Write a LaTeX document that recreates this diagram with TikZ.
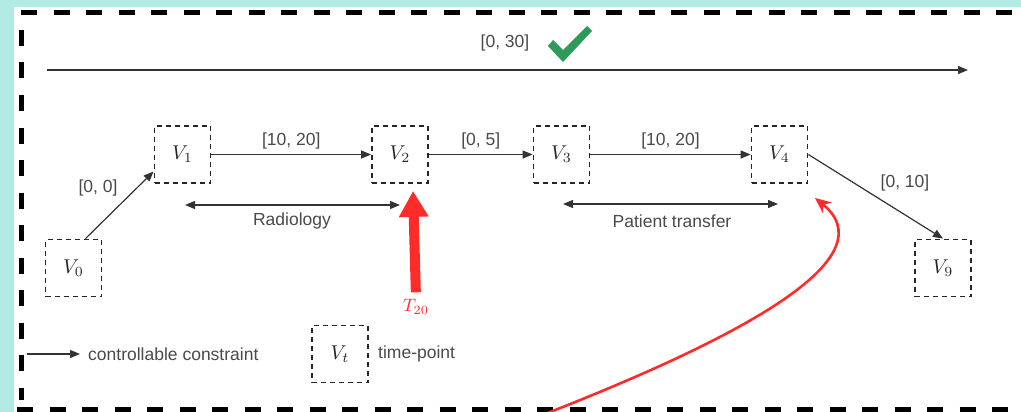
\documentclass[tikz,border=0pt]{standalone}
\usepackage{graphicx}
\usepackage{fontspec}
\setmainfont{Liberation Sans}
\usetikzlibrary{arrows.meta,calc}
\definecolor{teal0}{HTML}{B3EBE4}
\definecolor{txt}{HTML}{4A4A4A}
\definecolor{edge}{HTML}{333333}
\definecolor{okgreen}{HTML}{2E9A5A}
\definecolor{alarm}{HTML}{FF2A2A}
\newcommand{\vlab}[1]{\scalebox{2}{$#1$}}
\begin{document}
\begin{tikzpicture}[x=1pt,y=-1pt,
  tp/.style={draw=black!85, dash pattern=on 5pt off 4pt, line width=1.8pt,
    minimum width=56pt, minimum height=57pt, inner sep=0pt, text=black!85},
  lbl/.style={font=\fontsize{17.5}{20}\selectfont, text=txt, inner sep=1pt},
  ctrl/.style={draw=edge, line width=1.2pt, -{Triangle[length=10pt,width=8pt]}},
  span/.style={draw=edge, line width=1.2pt, {Triangle[length=10pt,width=8pt]}-{Triangle[length=10pt,width=8pt]}},
  frame/.style={draw=black, line width=5pt, dash pattern=on 16pt off 16.5pt}]
\useasboundingbox (0,0) rectangle (1021,412);
\fill[teal0] (0,0) rectangle (1021,412);
\fill[white] (14,7) rectangle (1021,412);
% frame
\draw[frame] (21,13) -- (1030,13);
\draw[frame] (21,30) -- (21,400);
\draw[frame] (17,409) -- (1030,409);
% overall constraint
\coordinate (g0) at (47,70);
\coordinate (g1) at (968,70);
\draw[ctrl] (g0) -- (g1);
\node[lbl] (g30) at (505,43) {[0, 30]};
\fill[okgreen] (548,46) -- (553,40) -- (563,50) -- (587,26) -- (592,31) -- (563,62) -- cycle;
% time-points
\node[tp] (V0) at (73.5,268) {\vlab{V_0}};
\node[tp] (V1) at (182.5,154.5) {\vlab{V_1}};
\node[tp] (V2) at (400,154.5) {\vlab{V_2}};
\node[tp] (V3) at (561.5,154.5) {\vlab{V_3}};
\node[tp] (V4) at (779.5,154.5) {\vlab{V_4}};
\node[tp] (V9) at (943,268) {\vlab{V_9}};
% constraints
\draw[ctrl] ($(V0.north)+(12,0)$) -- ($(V1.west)+(0,17)$);
\node[lbl] (l00) at (98,188) {[0, 0]};
\draw[ctrl] (V1) -- node[lbl, above=4pt] (l12) {[10, 20]} (V2);
\draw[ctrl] (V2) -- node[lbl, above=4pt] (l23) {[0, 5]} (V3);
\draw[ctrl] (V3) -- node[lbl, above=4pt] (l34) {[10, 20]} (V4);
\draw[ctrl] (V4.east) -- (V9.north);
\node[lbl] (l49) at (905,183) {[0, 10]};
% spans
\coordinate (r0) at (185,205);
\coordinate (r1) at (400,205);
\draw[span] (r0) -- (r1);
\node[lbl] (rad) at (292,221) {Radiology};
\coordinate (p0) at (563,204);
\coordinate (p1) at (778,204);
\draw[span] (p0) -- (p1);
\node[lbl] (pt) at (672,221) {Patient transfer};
% red event
\node[text=alarm, inner sep=1pt] (T20) at (416,307) {\scalebox{1.8}{$T_{20}$}};
\coordinate (redtip) at ($(V2.south)+(13,7)$);
\draw[alarm, line width=10pt, shorten <=6pt, -{Triangle[length=26pt,width=28pt]}] (T20.north) -- (redtip);
\coordinate (cs) at (545,414);
\coordinate (ct) at ($(V4.south)+(35.5,14)$);
\draw[alarm, line width=2.6pt, -{Stealth[length=16pt,width=14pt]}] (cs) .. controls (760,330) and (885,255) .. (ct);
% legend
\coordinate (lg0) at (27,354);
\coordinate (lg1) at (80,354);
\draw[ctrl] (lg0) -- (lg1);
\node[lbl, anchor=west] (lgt) at (87,354) {controllable constraint};
\node[tp] (Vt) at (340,354) {\vlab{V_t}};
\node[lbl, anchor=west] (tpt) at (377,354) {time-point};
\end{tikzpicture}
\end{document}
